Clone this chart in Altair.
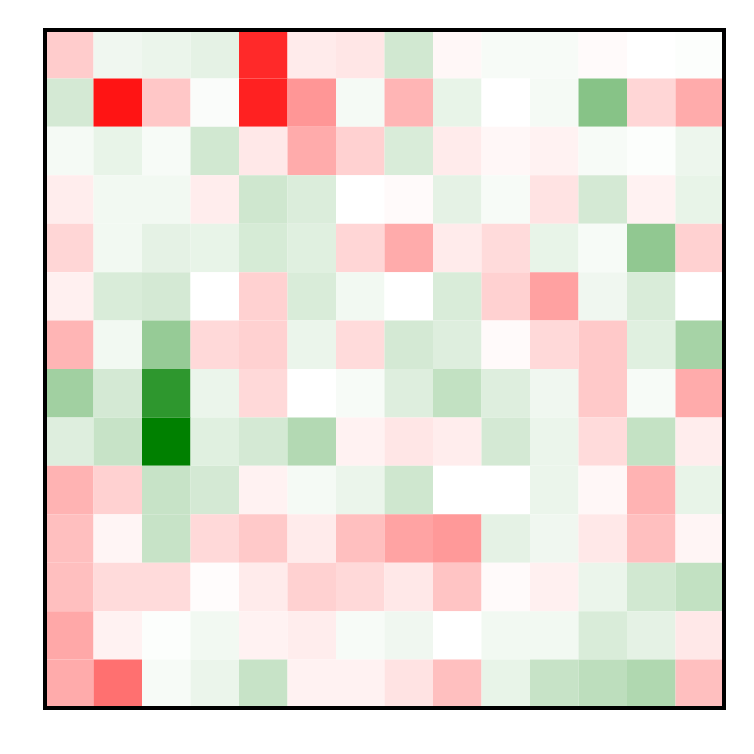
import altair as alt
import pandas as pd

n_rows = 14
n_cols = 14

# signed intensity: negative -> red, positive -> green
row_00 = [-0.20, 0.06, 0.08, 0.10, -0.84, -0.08, -0.10, 0.18, -0.03, 0.03, 0.03, -0.02, 0.00, 0.01]
row_01 = [0.17, -0.92, -0.22, 0.02, -0.87, -0.41, 0.04, -0.29, 0.09, 0.00, 0.04, 0.47, -0.16, -0.33]
row_02 = [0.04, 0.09, 0.03, 0.18, -0.09, -0.33, -0.18, 0.15, -0.08, -0.03, -0.05, 0.03, 0.01, 0.07]
row_03 = [-0.07, 0.05, 0.05, -0.07, 0.19, 0.14, 0.00, -0.02, 0.10, 0.03, -0.11, 0.17, -0.05, 0.09]
row_04 = [-0.16, 0.05, 0.10, 0.09, 0.16, 0.12, -0.16, -0.33, -0.08, -0.14, 0.09, 0.03, 0.43, -0.18]
row_05 = [-0.06, 0.15, 0.17, 0.00, -0.18, 0.15, 0.05, 0.00, 0.15, -0.18, -0.37, 0.06, 0.15, 0.00]
row_06 = [-0.29, 0.05, 0.41, -0.15, -0.18, 0.08, -0.14, 0.17, 0.13, -0.02, -0.15, -0.21, 0.12, 0.35]
row_07 = [0.37, 0.17, 0.82, 0.08, -0.15, 0.00, 0.03, 0.13, 0.24, 0.13, 0.06, -0.21, 0.03, -0.33]
row_08 = [0.13, 0.22, 1.00, 0.12, 0.17, 0.30, -0.05, -0.10, -0.07, 0.17, 0.08, -0.14, 0.23, -0.07]
row_09 = [-0.30, -0.18, 0.22, 0.17, -0.05, 0.04, 0.08, 0.19, 0.00, 0.00, 0.08, -0.03, -0.30, 0.09]
row_10 = [-0.25, -0.04, 0.22, -0.15, -0.21, -0.08, -0.25, -0.36, -0.40, 0.10, 0.06, -0.09, -0.25, -0.04]
row_11 = [-0.25, -0.14, -0.14, -0.01, -0.08, -0.18, -0.15, -0.09, -0.23, -0.02, -0.06, 0.08, 0.18, 0.24]
row_12 = [-0.34, -0.05, 0.01, 0.05, -0.05, -0.07, 0.03, 0.06, 0.00, 0.05, 0.05, 0.15, 0.10, -0.09]
row_13 = [-0.33, -0.56, 0.03, 0.08, 0.22, -0.05, -0.05, -0.11, -0.25, 0.09, 0.22, 0.26, 0.31, -0.25]

rows = [row_00, row_01, row_02, row_03, row_04, row_05, row_06,
        row_07, row_08, row_09, row_10, row_11, row_12, row_13]

records = []
for r, vals in enumerate(rows):
    for c, v in enumerate(vals):
        records.append({"row": r, "col": c, "value": v})
df = pd.DataFrame(records)

W = 679
H = 678

heat = (
    alt.Chart(df)
    .mark_rect(strokeWidth=0)
    .encode(
        x=alt.X("col:O", axis=None, scale=alt.Scale(paddingInner=0, paddingOuter=0)),
        y=alt.Y("row:O", axis=None, scale=alt.Scale(paddingInner=0, paddingOuter=0)),
        color=alt.Color(
            "value:Q",
            scale=alt.Scale(domain=[-1, 0, 1], range=["#ff0000", "#ffffff", "#008000"], interpolate="rgb"),
            legend=None,
        ),
    )
)

frame = (
    alt.Chart(pd.DataFrame({"k": [0]}))
    .mark_rect(fill=None, fillOpacity=0, stroke="black", strokeWidth=4)
    .encode(x=alt.value(0), x2=alt.value(W), y=alt.value(0), y2=alt.value(H))
)

chart = (
    alt.layer(heat, frame)
    .properties(
        width=W,
        height=H,
        padding={"left": 37, "top": 22, "right": 10, "bottom": 10},
        autosize=alt.AutoSizeParams(type="none"),
    )
    .configure_view(stroke=None)
)

chart.save("out.html", embed_options={"renderer": "svg", "actions": False})
